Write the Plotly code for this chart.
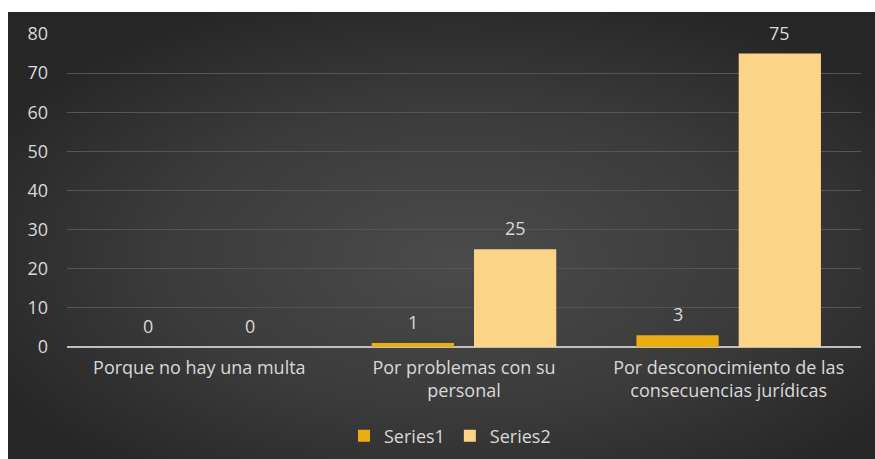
import base64
import plotly.graph_objects as go

categories = ["Porque no hay una multa", "Por problemas con su<br>personal",
              "Por desconocimiento de las<br>consecuencias jurídicas"]
series_names = ["Series1", "Series2"]
series1 = [0, 1, 3]
series2 = [0, 25, 75]
y_ticks = [0, 10, 20, 30, 40, 50, 60, 70, 80]

colors = ["#ECAD12", "#FCD488"]
label_color = "#D9D9D9"
font_family = "Open Sans"
fs = 18

W, H = 875, 459
L, R, T, B = 67, 14, 34, 112
pw, ph = W - L - R, H - T - B
left_white, top_white = 8, 12

svg = (
    '<svg xmlns="http://www.w3.org/2000/svg" width="867" height="447" preserveAspectRatio="none">'
    '<defs><radialGradient id="g" cx="52%" cy="55%" r="62%" fx="52%" fy="55%">'
    '<stop offset="0%" stop-color="#4b4b4b"/>'
    '<stop offset="55%" stop-color="#3b3b3b"/>'
    '<stop offset="100%" stop-color="#262626"/>'
    '</radialGradient></defs>'
    '<rect width="867" height="447" fill="url(#g)"/></svg>'
)
src = "data:image/svg+xml;base64," + base64.b64encode(svg.encode()).decode()

fig = go.Figure()
for name, vals, col in zip(series_names, [series1, series2], colors):
    fig.add_trace(go.Bar(name=name, x=categories, y=vals, marker_color=col,
                         marker_line_width=0, hoverinfo="skip"))

annotations = []
for k, vals in enumerate([series1, series2]):
    for c, v in zip(categories, vals):
        annotations.append(dict(
            x=c, y=v, xref="x", yref="y", text=str(v), showarrow=False,
            xshift=(-51 if k == 0 else 51), yshift=21,
            font=dict(family=font_family, size=fs, color=label_color)))

# white strips at the top and left edges of the picture
x0p, x1p = -L / pw, (W - L) / pw
y0p, y1p = -B / ph, (H - B) / ph
shapes = [
    dict(type="rect", xref="paper", yref="paper", x0=x0p, x1=x1p,
         y0=(H - B - top_white) / ph, y1=y1p, fillcolor="white",
         line_width=0, layer="above"),
    dict(type="rect", xref="paper", yref="paper", x0=x0p,
         x1=(left_white - L) / pw, y0=y0p, y1=y1p, fillcolor="white",
         line_width=0, layer="above"),
]

fig.update_layout(
    width=W, height=H,
    margin=dict(l=L, r=R, t=T, b=B, autoexpand=False),
    paper_bgcolor="#2a2a2a",
    plot_bgcolor="rgba(0,0,0,0)",
    barmode="group", bargap=0.227, bargroupgap=0.196,
    font=dict(family=font_family, size=fs, color=label_color),
    images=[dict(source=src, xref="paper", yref="paper",
                 x=(left_white - L) / pw, y=(H - B - top_white) / ph,
                 sizex=(W - left_white) / pw, sizey=(H - top_white) / ph,
                 sizing="stretch", layer="below", xanchor="left", yanchor="top")],
    shapes=shapes,
    legend=dict(orientation="h", x=(450 - L) / pw, xanchor="center",
                y=(H - B - 436) / ph, yanchor="middle",
                font=dict(size=fs, color=label_color), bgcolor="rgba(0,0,0,0)",
                itemwidth=30, traceorder="normal"),
    annotations=annotations,
    xaxis=dict(showgrid=False, showline=False, ticks="", automargin=False,
               tickfont=dict(size=fs, color=label_color),
               ticklabelstandoff=8),
    yaxis=dict(range=[0, 80], tickvals=y_ticks, showgrid=True, automargin=False,
               gridcolor="#555555", gridwidth=1, zeroline=True,
               zerolinecolor="#BFBFBF", zerolinewidth=2,
               showline=False, ticks="",
               tickfont=dict(size=fs, color=label_color),
               ticklabelstandoff=18),
)

fig.write_html(
    "out.html",
    config={"displayModeBar": False},
    post_script="document.body.style.margin='0';document.body.style.overflow='hidden';",
)
